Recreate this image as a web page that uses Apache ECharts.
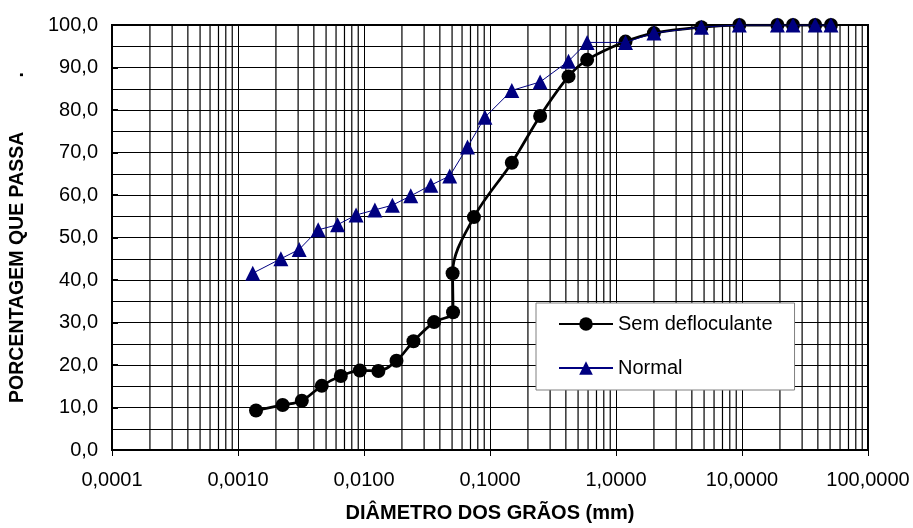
<!DOCTYPE html>
<html>
<head>
<meta charset="utf-8">
<script src="https://cdn.jsdelivr.net/npm/echarts@6/dist/echarts.min.js"></script>
<style>
html,body{margin:0;padding:0;background:#fff;}
#chart{width:913px;height:528px;}
</style>
</head>
<body>
<div id="chart"></div>
<script>
const seriesNames = ['Sem defloculante', 'Normal'];
const semX = [0.00139, 0.00226, 0.00321, 0.00462, 0.00655, 0.00927, 0.0130, 0.0181, 0.0247, 0.0360, 0.0509, 0.0505, 0.0746, 0.149, 0.250, 0.420, 0.590, 1.19, 2.00, 4.76, 9.52, 19.1, 25.4, 38.1, 50.8];
const semY = [9.3, 10.6, 11.6, 15.1, 17.4, 18.7, 18.6, 21.0, 25.6, 30.1, 32.4, 41.6, 54.8, 67.6, 78.6, 87.9, 91.8, 96.1, 98.1, 99.5, 100, 100, 100, 100, 100];
const normX = [0.00131, 0.00219, 0.00306, 0.00433, 0.00617, 0.00865, 0.0122, 0.0168, 0.0235, 0.0339, 0.0479, 0.0663, 0.0912, 0.149, 0.250, 0.420, 0.590, 1.19, 2.00, 4.76, 9.52, 19.1, 25.4, 38.1, 50.8];
const normY = [41.6, 45.0, 47.2, 51.8, 53.0, 55.3, 56.5, 57.6, 59.8, 62.3, 64.5, 71.3, 78.3, 84.6, 86.6, 91.5, 95.9, 95.9, 98.1, 99.5, 100, 100, 100, 100, 100];
const xTickLabels = ['0,0001', '0,0010', '0,0100', '0,1000', '1,0000', '10,0000', '100,0000'];
const yTickLabels = ['0,0', '10,0', '20,0', '30,0', '40,0', '50,0', '60,0', '70,0', '80,0', '90,0', '100,0'];
const xTitle = 'DIÂMETRO DOS GRÃOS (mm)';
const yTitle = 'PORCENTAGEM QUE PASSA          .';

const FONT = '"Liberation Sans", Arial, sans-serif';

// minor log grid lines (2..9 in each decade), drawn as broken line segments
const minorGridData = [];
for (let e = -4; e < 2; e++) {
  for (let m = 2; m <= 9; m++) {
    const v = m * Math.pow(10, e);
    minorGridData.push([v, 0], [v, 100], [v, '-']);
  }
}

const xFmt = v => {
  const idx = Math.round(Math.log10(v)) + 4;
  return xTickLabels[idx] !== undefined ? xTickLabels[idx] : '';
};
const yFmt = v => {
  const idx = Math.round(v / 10);
  return yTickLabels[idx] !== undefined ? yTickLabels[idx] : '';
};

const chart = echarts.init(document.getElementById('chart'), null, { renderer: 'canvas' });
chart.setOption({
  animation: false,
  backgroundColor: '#fff',
  grid: {
    left: 111, right: 45, top: 25, bottom: 74,
    show: true, borderColor: '#000', borderWidth: 2, backgroundColor: '#fff'
  },
  xAxis: {
    type: 'log', logBase: 10, min: 0.0001, max: 100, splitNumber: 6,
    name: xTitle, nameLocation: 'middle', nameGap: 53,
    nameTextStyle: { fontFamily: FONT, fontWeight: 'bold', fontSize: 20, color: '#000' },
    axisLine: { show: false },
    axisTick: { show: true, inside: false, length: 6, lineStyle: { color: '#000', width: 1 } },
    axisLabel: { formatter: xFmt, fontFamily: FONT, fontSize: 20, color: '#000', margin: 20 },
    splitLine: { show: true, lineStyle: { color: '#000', width: 1 } }
  },
  yAxis: {
    type: 'value', min: 0, max: 100, interval: 10,
    name: yTitle, nameLocation: 'middle', nameGap: 84, nameRotate: 90,
    nameTextStyle: { fontFamily: FONT, fontWeight: 'bold', fontSize: 19.5, color: '#000' },
    axisLine: { show: false },
    axisTick: { show: true, inside: true, length: 6, lineStyle: { color: '#000', width: 2 } },
    axisLabel: { formatter: yFmt, fontFamily: FONT, fontSize: 20, color: '#000', margin: 14 },
    splitLine: { show: true, lineStyle: { color: '#000', width: 1 } },
    minorTick: { show: false, splitNumber: 2 },
    minorSplitLine: { show: true, lineStyle: { color: '#000', width: 1 } }
  },
  legend: {
    data: seriesNames,
    orient: 'vertical',
    left: 536, top: 303,
    padding: [11, 22, 12, 22],
    itemWidth: 54, itemHeight: 17, itemGap: 24,
    backgroundColor: '#fff', borderColor: '#808080', borderWidth: 1, borderRadius: 0,
    textStyle: { fontFamily: FONT, fontSize: 20, color: '#000' },
    selectedMode: false
  },
  series: [
    {
      name: 'minorGrid', type: 'line', z: 1, silent: true,
      data: minorGridData,
      showSymbol: false, symbol: 'none', connectNulls: false,
      lineStyle: { color: '#000', width: 1.2 },
      emphasis: { disabled: true },
      tooltip: { show: false }
    },
    {
      name: seriesNames[0], type: 'line', z: 3,
      data: semX.map((x, i) => [x, semY[i]]),
      smooth: 0.35,
      symbol: 'circle', symbolSize: 14,
      lineStyle: { color: '#000', width: 2.75 },
      itemStyle: { color: '#000' }
    },
    {
      name: seriesNames[1], type: 'line', z: 4,
      data: normX.map((x, i) => [x, normY[i]]),
      symbol: 'triangle', symbolSize: [15, 15],
      lineStyle: { color: '#000080', width: 1 },
      itemStyle: { color: '#000080' }
    }
  ]
});
</script>
</body>
</html>
